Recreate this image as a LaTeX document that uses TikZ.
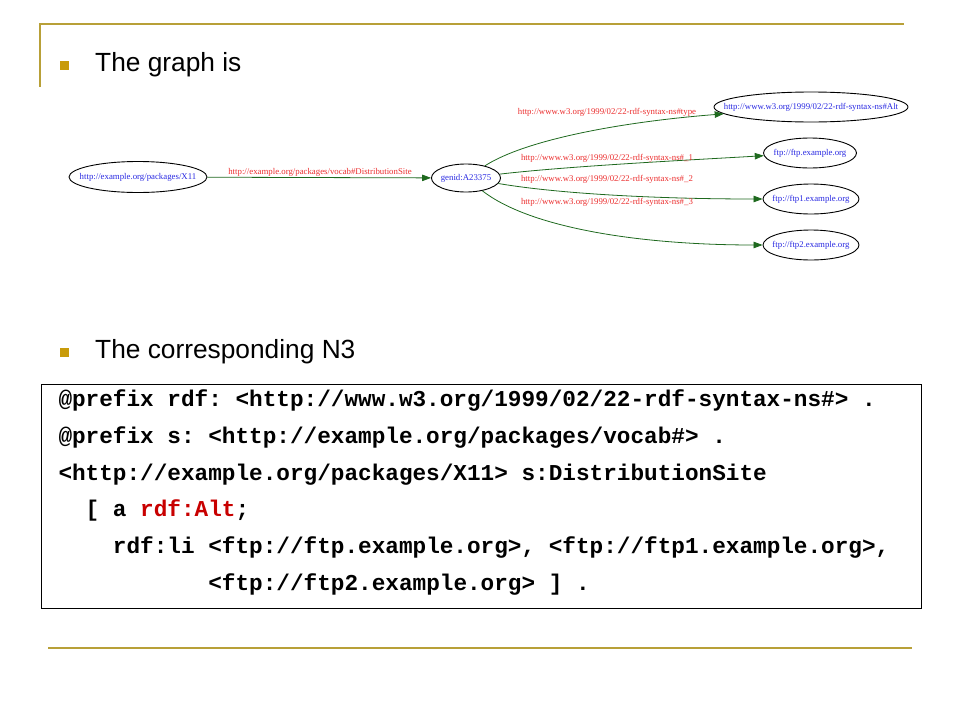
\documentclass[tikz,border=0pt]{standalone}
\usepackage{fontspec}
\setmainfont{Liberation Serif}
\setmonofont{Liberation Mono}
\newfontfamily\arialfont{Liberation Sans}
\usetikzlibrary{shapes.geometric,arrows.meta}
\definecolor{gold}{RGB}{184,160,56}
\definecolor{bulletgold}{RGB}{200,155,10}
\definecolor{edgegreen}{RGB}{30,105,30}
\definecolor{labelred}{RGB}{235,45,45}
\definecolor{nodeblue}{RGB}{40,40,225}
\definecolor{codered}{RGB}{200,0,0}
\newcommand{\zbox}[1]{\makebox[0pt]{#1}}
\tikzset{
  rule/.style={draw=gold,line width=2pt},
  bulletsq/.style={fill=bulletgold,draw=none,minimum size=9pt,inner sep=0pt},
  heading/.style={font=\arialfont\fontsize{26.3}{30}\selectfont,anchor=base west,inner sep=0pt},
  gnode/.style={draw=black,line width=0.9pt,ellipse,inner sep=0pt,minimum height=30pt,
    font=\fontsize{8.8}{10}\selectfont,text=nodeblue},
  edge/.style={draw=edgegreen,line width=0.8pt,-{Triangle[length=9pt,width=6.5pt]}},
  elabel/.style={font=\fontsize{8.8}{10}\selectfont,text=labelred,inner sep=0pt},
  codeline/.style={font=\ttfamily\bfseries\fontsize{22.7}{26}\selectfont,anchor=base west,inner sep=0pt},
}
\begin{document}
\begin{tikzpicture}[x=1pt,y=-1pt]
\useasboundingbox (0,0) rectangle (960,720);
% frame rules
\draw[rule] (40,24) -- (904,24);
\draw[rule] (40,23) -- (40,87);
\draw[rule] (48,648) -- (912,648);
% headings
\node[bulletsq] (b1) at (64.5,65.5) {};
\node[heading] (h1) at (95,71) {The graph is};
\node[bulletsq] (b2) at (64,352.5) {};
\node[heading] (h2) at (95,358) {The corresponding N3};
% graph
\node[gnode,minimum width=138pt,minimum height=31pt] (x11) at (138,177) {\zbox{http://example.org/packages/X11}};
\node[gnode,minimum width=69pt,minimum height=28pt] (genid) at (466,178) {\zbox{genid:A23375}};
\node[gnode,minimum width=194pt] (alt) at (811,107) {\zbox{http://www.w3.org/1999/02/22-rdf-syntax-ns\#Alt}};
\node[gnode,minimum width=93pt] (ftp) at (810,153) {\zbox{ftp://ftp.example.org}};
\node[gnode,minimum width=96pt] (ftp1) at (811,199) {\zbox{ftp://ftp1.example.org}};
\node[gnode,minimum width=96pt] (ftp2) at (811,245) {\zbox{ftp://ftp2.example.org}};
\draw[edge] (x11) -- (genid);
\node[elabel] (l0) at (320,172) {http://example.org/packages/vocab\#DistributionSite};
\draw[edge] (genid) .. controls (525,140) and (620,122) .. (alt);
\node[elabel] (l1) at (607,112) {http://www.w3.org/1999/02/22-rdf-syntax-ns\#type};
\draw[edge] (genid) .. controls (570,166) and (690,160) .. (ftp);
\node[elabel] (l2) at (607,158) {http://www.w3.org/1999/02/22-rdf-syntax-ns\#\_1};
\draw[edge] (genid) .. controls (560,194) and (660,199) .. (ftp1);
\node[elabel] (l3) at (607,179) {http://www.w3.org/1999/02/22-rdf-syntax-ns\#\_2};
\draw[edge] (genid) .. controls (530,228) and (640,245) .. (ftp2);
\node[elabel] (l4) at (607,202) {http://www.w3.org/1999/02/22-rdf-syntax-ns\#\_3};
% code box
\node[draw=black,line width=1pt,minimum width=880pt,minimum height=224pt,inner sep=0pt,anchor=north west] (box) at (40.7,384) {};
\node[codeline] (c1) at (58.3,406.7) {@prefix rdf: <http://www.w3.org/1999/02/22-rdf-syntax-ns\#> .};
\node[codeline] (c2) at (58.3,443.3) {@prefix s: <http://example.org/packages/vocab\#> .};
\node[codeline] (c3) at (58.3,480) {<http://example.org/packages/X11> s:DistributionSite};
\node[codeline] (c4) at (58.3,516.7) {\ \ [ a \textcolor{codered}{rdf:Alt};};
\node[codeline] (c5) at (58.3,553.3) {\ \ \ \ rdf:li <ftp://ftp.example.org>, <ftp://ftp1.example.org>,};
\node[codeline] (c6) at (58.3,590) {\ \ \ \ \ \ \ \ \ \ \ <ftp://ftp2.example.org> ] .};
\end{tikzpicture}
\end{document}
